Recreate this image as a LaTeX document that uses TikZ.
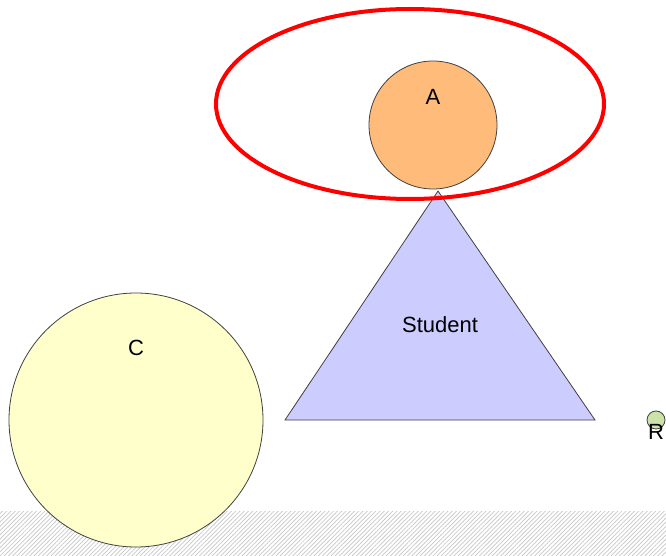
\documentclass[tikz,border=0pt]{standalone}
\usepackage{fontspec}
\setmainfont{Liberation Sans}
\usetikzlibrary{patterns.meta}
\definecolor{cyellow}{HTML}{FFFFCC}
\definecolor{corange}{HTML}{FFBB7A}
\definecolor{clav}{HTML}{CCCCFF}
\definecolor{cgreen}{HTML}{CCE2A8}
\tikzset{
  shapeline/.style={draw=black!75, line width=0.8pt},
  lbl/.style={font=\fontsize{22}{26}\selectfont, inner sep=0pt, anchor=center},
}
\begin{document}
\begin{tikzpicture}[x=1pt,y=-1pt]
\useasboundingbox (0,0) rectangle (666,556);
\fill[white] (0,0) rectangle (666,556);
% hatched band
\path[pattern={Lines[angle=45,distance=3pt,line width=0.7pt]}, pattern color=black!22] (0,511) rectangle (666,556);
% C circle
\path[shapeline, fill=cyellow] (136,420) circle[radius=127];
\node[lbl] (c) at (136,348) {C};
% triangle
\path[shapeline, fill=clav] (438,191) -- (595,420) -- (285,420) -- cycle;
\node[lbl] (student) at (440,325) {Student};
% A circle
\path[shapeline, fill=corange] (433,125) circle[radius=64];
\node[lbl] (a) at (433,97) {A};
% red ellipse
\draw[red, line width=4pt] (410,104) ellipse[x radius=194, y radius=95];
% R
\path[shapeline, fill=cgreen] (656,420) circle[radius=9];
\node[lbl] (r) at (656,432) {R};
\end{tikzpicture}
\end{document}
